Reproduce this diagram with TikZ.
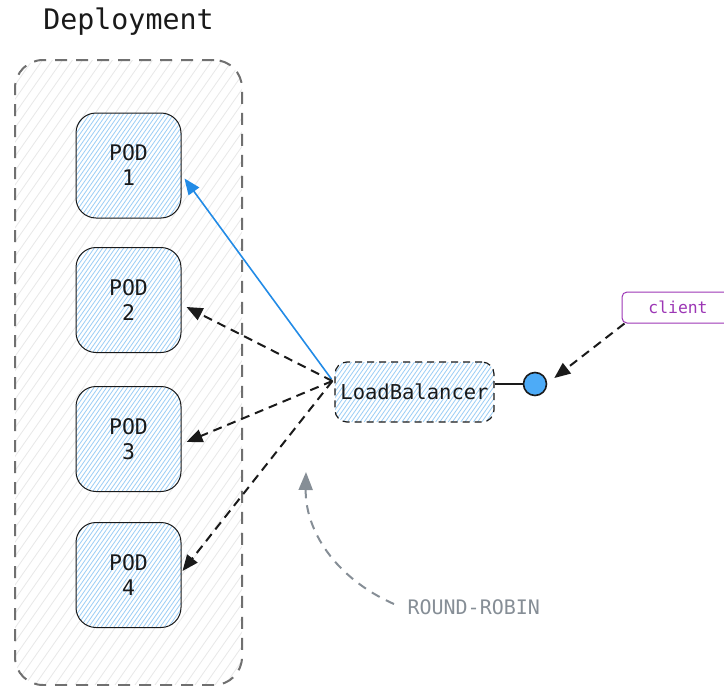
\documentclass[tikz,border=0pt]{standalone}
\usepackage{fontspec}
\usetikzlibrary{arrows.meta,calc}
\newfontfamily\monofont{DejaVu Sans Mono}
\definecolor{ink}{HTML}{1A1A1A}
\definecolor{hatchblue}{HTML}{9CCEF6}
\definecolor{hatchgray}{HTML}{E8E8E8}
\definecolor{framegray}{HTML}{707070}
\definecolor{reqblue}{HTML}{228BE6}
\definecolor{dotblue}{HTML}{4DABF7}
\definecolor{clientpurple}{HTML}{9C36B5}
\definecolor{notegray}{HTML}{868E96}
\tikzset{
  x=1pt, y=-1pt,
  every node/.style={font=\monofont, text=ink},
  % diagonal hatching clipped to the shape: spacing, colour
  hatch/.style 2 args={path picture={
    \foreach \k in {0,1,...,200}{
      \draw[#2, solid, line width=0.8pt]
        ($(path picture bounding box.south west)+(\k*#1-500,0)$) -- ++(490,-700);
    }}},
  podbox/.style={draw=ink, line width=1pt, rounded corners=20pt,
    minimum width=105pt, minimum height=105pt, align=center,
    font=\monofont\fontsize{21.5}{25}\selectfont,
    fill=white, hatch={4.2}{hatchblue}},
  lbbox/.style={draw=ink, line width=1.2pt, dash pattern=on 7pt off 5pt, rounded corners=12pt,
    minimum width=159pt, minimum height=60pt,
    font=\monofont\fontsize{20.5}{24}\selectfont,
    fill=white, hatch={4.2}{hatchblue}},
  groupbox/.style={draw=framegray, line width=2pt, dash pattern=on 12pt off 9pt, rounded corners=28pt,
    minimum width=227pt, minimum height=625pt,
    fill=white, hatch={10}{hatchgray}},
  flow/.style={draw=ink, line width=2pt, dash pattern=on 9pt off 6pt,
    -{Triangle[length=16pt,width=13pt]}},
  active/.style={draw=reqblue, line width=1.6pt, -{Triangle[length=16pt,width=13pt]}},
  note/.style={draw=notegray, line width=2pt, dash pattern=on 9pt off 7pt,
    -{Triangle[length=18pt,width=14pt]}},
}
\begin{document}
\begin{tikzpicture}
\useasboundingbox (0,0) rectangle (724,686);

% group frame and its title
\node[groupbox] (deploy) at (128.5,372.5) {};
\node[font=\monofont\fontsize{28.3}{32}\selectfont] (title) at (128.5,22) {Deployment};

% pods
\node[podbox] (pod1) at (128.5,165.5) {POD\\1};
\node[podbox] (pod2) at (128.5,300) {POD\\2};
\node[podbox] (pod3) at (128.5,439) {POD\\3};
\node[podbox] (pod4) at (128.5,575) {POD\\4};

% load balancer and its entry point
\node[lbbox] (lb) at (414.5,392) {LoadBalancer};
\node[circle, draw=ink, line width=1.6pt, fill=dotblue, minimum size=23pt, inner sep=0pt] (dot) at (535,384) {};
\draw[ink, line width=1.6pt] ($(lb.east)+(0,-8)$) -- (dot.west);

% client
\node[draw=clientpurple, line width=1pt, rounded corners=5pt, minimum width=112pt, minimum height=31pt,
  font=\monofont\fontsize{16.4}{19}\selectfont, text=clientpurple] (client) at (678,307.5) {client};
\draw[flow] ($(client.south west)+(3,0)$) -- ($(dot.east)+(7,-6)$);

% distribution to pods
\coordinate (fan) at ($(lb.west)+(-2,-11)$);
\draw[active] ($(lb.west)+(-3,-13)$) -- ($(pod1.east)+(3,13)$);
\draw[flow] (fan) -- ($(pod2.east)+(5,7)$);
\draw[flow] (fan) -- ($(pod3.east)+(5,3)$);
\draw[flow] (fan) -- ($(pod4.east)+(1,-4)$);

% scheduling note
\node[font=\monofont\fontsize{20}{23}\selectfont, text=notegray, anchor=west] (rr) at (404,607) {ROUND-ROBIN};
\coordinate (rrtip) at (306,472);
\draw[note] ($(rr.west)+(-10,-3)$) .. controls (335,578) and (305,530) .. (rrtip);
\end{tikzpicture}
\end{document}
